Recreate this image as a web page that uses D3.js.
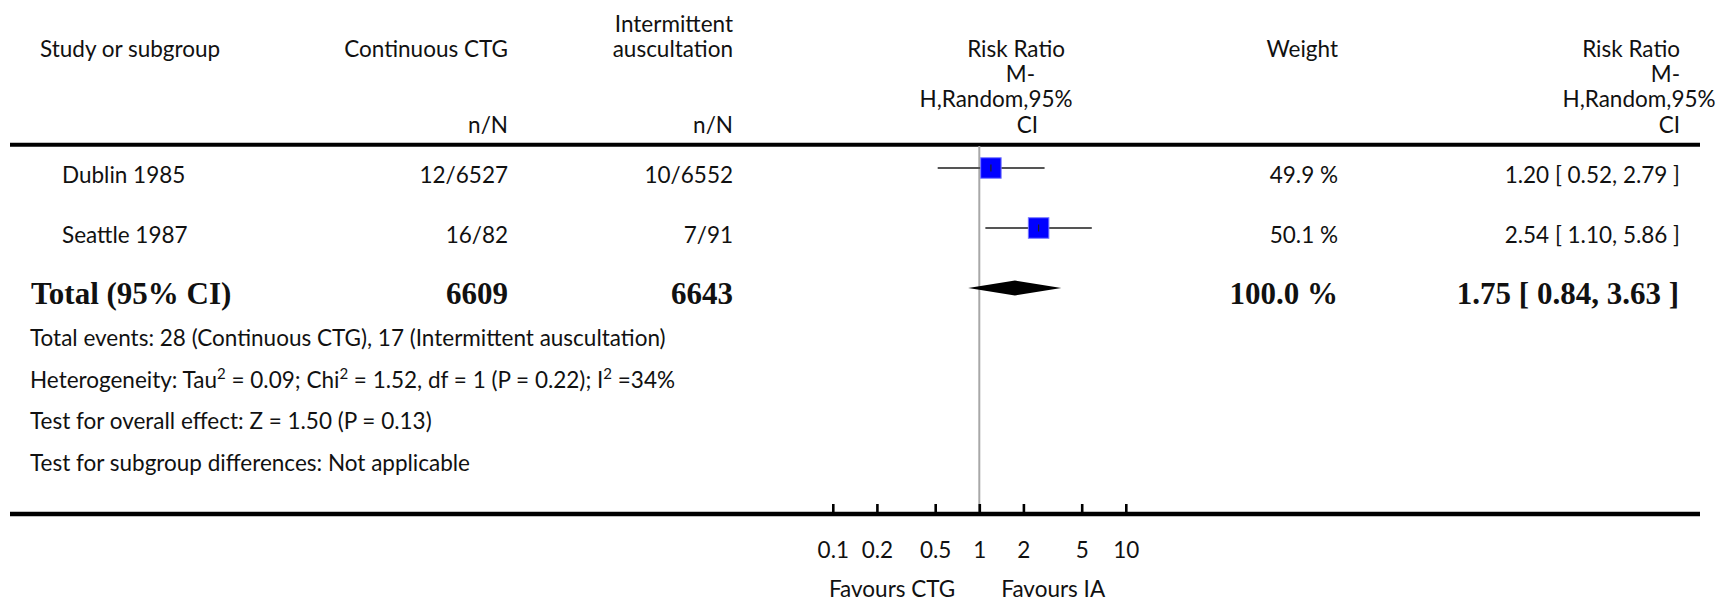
<!DOCTYPE html>
<html>
<head>
<meta charset="utf-8">
<script src="https://cdn.jsdelivr.net/npm/d3@7"></script>
<style>
  html, body { margin: 0; padding: 0; background: #fff; }
  svg text { font-family: "Lato", "Open Sans", sans-serif; fill: #111; }
  svg text.bold { font-family: "Liberation Serif", "Times New Roman", serif; font-weight: bold; }
</style>
</head>
<body>
<svg id="chart" width="1723" height="603"></svg>
<script>
// ---------- data ----------
const studies = ["Dublin 1985", "Seattle 1987"];
const ctgEvents = ["12/6527", "16/82"];
const iaEvents = ["10/6552", "7/91"];
const riskRatio = [1.20, 2.54];
const ciLow = [0.52, 1.10];
const ciHigh = [2.79, 5.86];
const weights = [49.9, 50.1];

const totalLabel = "Total (95% CI)";
const totalCtgN = "6609";
const totalIaN = "6643";
const totalRR = 1.75, totalLow = 0.84, totalHigh = 3.63;
const totalWeight = 100.0;

const axisTicks = [0.1, 0.2, 0.5, 1, 2, 5, 10];
const axisTickLabels = ["0.1", "0.2", "0.5", "1", "2", "5", "10"];
const favoursLeft = "Favours CTG";
const favoursRight = "Favours IA";

const footerLines = [
  [["Total events: 28 (Continuous CTG), 17 (Intermittent auscultation)", false]],
  [["Heterogeneity: Tau", false], ["2", true], [" = 0.09; Chi", false], ["2", true], [" = 1.52, df = 1 (P = 0.22); I", false], ["2", true], [" =34%", false]],
  [["Test for overall effect: Z = 1.50 (P = 0.13)", false]],
  [["Test for subgroup differences: Not applicable", false]]
];

// ---------- layout ----------
const svg = d3.select("#chart");
const FS = 22.5;
const x = d3.scaleLog().domain([0.1, 10]).range([832.8, 1125.8]);
const yRow = d3.scaleLinear().domain([0, 2]).range([168, 288]);
const sq = d3.scaleSqrt().domain([0, 100]).range([0, 29]);
const fmt2 = d3.format(".2f");

function txt(xp, yp, s, anchor, cls, size) {
  return svg.append("text").attr("x", xp).attr("y", yp)
    .attr("text-anchor", anchor || "start")
    .attr("class", cls || null)
    .style("font-size", (size || FS) + "px")
    .text(s);
}

// header
txt(40, 57, "Study or subgroup");
txt(508, 57, "Continuous CTG", "end");
txt(508, 133, "n/N", "end");
txt(733, 32, "Intermittent", "end");
txt(733, 57, "auscultation", "end");
txt(733, 133, "n/N", "end");
// forest header
txt(1065, 57, "Risk Ratio", "end");
txt(1035, 82, "M-", "end");
txt(996, 107, "H,Random,95%", "middle");
txt(1038, 133, "CI", "end");
txt(1338, 57, "Weight", "end");
txt(1680, 57, "Risk Ratio", "end");
txt(1680, 82, "M-", "end");
txt(1639, 107, "H,Random,95%", "middle");
txt(1680, 133, "CI", "end");

// top rule
svg.append("line").attr("x1", 10).attr("x2", 1700).attr("y1", 144.7).attr("y2", 144.7)
  .attr("stroke", "#000").attr("stroke-width", 4);

// null line
svg.append("line").attr("x1", x(1)).attr("x2", x(1)).attr("y1", 146).attr("y2", 512)
  .attr("stroke", "#a8a8a8").attr("stroke-width", 2);

// study rows
studies.forEach((s, i) => {
  const yy = yRow(i);
  txt(62, yy + 15, s);
  txt(508, yy + 15, ctgEvents[i], "end");
  txt(733, yy + 15, iaEvents[i], "end");
  txt(1338, yy + 15, weights[i].toFixed(1) + " %", "end");
  txt(1680, yy + 15, `${fmt2(riskRatio[i])} [ ${fmt2(ciLow[i])}, ${fmt2(ciHigh[i])} ]`, "end");
  svg.append("line").attr("x1", x(ciLow[i])).attr("x2", x(ciHigh[i]))
    .attr("y1", yy).attr("y2", yy).attr("stroke", "#555").attr("stroke-width", 2);
  const w = sq(weights[i]);
  svg.append("rect").attr("x", x(riskRatio[i]) - w / 2).attr("y", yy - w / 2)
    .attr("width", w).attr("height", w).attr("fill", "#0000ff")
    .attr("stroke", "#7777ff").attr("stroke-width", 1);
  svg.append("line").attr("x1", x(riskRatio[i])).attr("x2", x(riskRatio[i]))
    .attr("y1", yy - 3.5).attr("y2", yy + 3.5).attr("stroke", "#222").attr("stroke-width", 1.2);
});

// total row
const ty = yRow(2);
txt(31, ty + 16, totalLabel, "start", "bold", 31);
txt(508, ty + 16, totalCtgN, "end", "bold", 31);
txt(733, ty + 16, totalIaN, "end", "bold", 31);
txt(1338, ty + 16, totalWeight.toFixed(1) + " %", "end", "bold", 31);
txt(1679, ty + 16, `${fmt2(totalRR)} [ ${fmt2(totalLow)}, ${fmt2(totalHigh)} ]`, "end", "bold", 31);
svg.append("path")
  .attr("d", `M${x(totalLow)},${ty} L${x(totalRR)},${ty - 7.5} L${x(totalHigh)},${ty} L${x(totalRR)},${ty + 7.5} Z`)
  .attr("fill", "#000");

// footer
footerLines.forEach((parts, i) => {
  const t = svg.append("text").attr("x", 30).attr("y", 346 + i * 41.7).style("font-size", FS + "px");
  parts.forEach(([s, sup]) => {
    const sp = t.append("tspan").text(s);
    if (sup) sp.attr("baseline-shift", "super").style("font-size", "15px");
  });
});

// bottom axis
svg.append("line").attr("x1", 10).attr("x2", 1700).attr("y1", 514).attr("y2", 514)
  .attr("stroke", "#000").attr("stroke-width", 4.5);
const axis = d3.axisBottom(x).tickValues(axisTicks)
  .tickFormat((d, i) => axisTickLabels[i]).tickSizeInner(-9).tickSizeOuter(0);
const ag = svg.append("g").attr("transform", "translate(0,513)").call(axis);
ag.select(".domain").remove();
ag.selectAll(".tick line").attr("stroke", "#000").attr("stroke-width", 2.6);
ag.selectAll(".tick text").attr("y", 45).attr("dy", 0)
  .style("font-size", FS + "px").style("font-family", "Lato, sans-serif").attr("fill", "#111");

txt(x(1) - 24, 597, favoursLeft, "end");
txt(x(1) + 22, 597, favoursRight, "start");
</script>
</body>
</html>
